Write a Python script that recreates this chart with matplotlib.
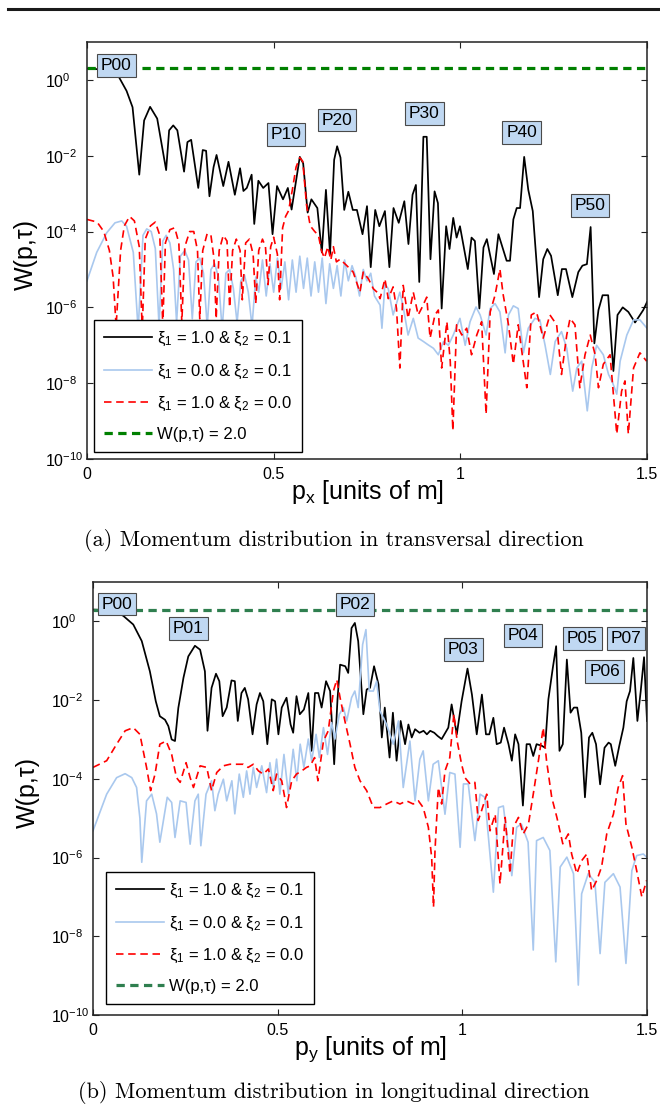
import numpy as np
import matplotlib
matplotlib.use("Agg")
import matplotlib.pyplot as plt
from matplotlib.lines import Line2D
from matplotlib.ticker import NullLocator

plt.rcParams['font.family'] = ['Liberation Sans', 'DejaVu Sans']
plt.rcParams['mathtext.fontset'] = 'custom'
plt.rcParams['mathtext.rm'] = 'Liberation Sans'
plt.rcParams['mathtext.it'] = 'Liberation Sans:italic'
plt.rcParams['mathtext.bf'] = 'Liberation Sans:bold'

# --- data: (p, log10 W) pairs ---
a_black = [(0.000, 0.30), (0.020, 0.29), (0.040, 0.27), (0.060, 0.22), (0.083, 0.12), (0.106, -0.29),
           (0.122, -0.72), (0.140, -2.50), (0.153, -1.07), (0.169, -0.71), (0.188, -1.02), (0.212, -2.38),
           (0.220, -1.33), (0.231, -1.20), (0.242, -1.33), (0.260, -2.42), (0.269, -1.64), (0.279, -1.58),
           (0.298, -2.85), (0.310, -1.85), (0.319, -1.87), (0.328, -3.07), (0.339, -2.30), (0.347, -1.98),
           (0.365, -2.80), (0.379, -2.16), (0.396, -3.03), (0.410, -2.33), (0.419, -2.93), (0.428, -2.85),
           (0.441, -2.50), (0.448, -3.80), (0.459, -2.66), (0.472, -2.85), (0.486, -2.72), (0.497, -4.07),
           (0.509, -2.80), (0.525, -3.15), (0.538, -2.85), (0.548, -3.42), (0.570, -2.03), (0.579, -2.20),
           (0.591, -3.50), (0.601, -3.15), (0.617, -3.38), (0.629, -4.55), (0.640, -2.90), (0.651, -4.60),
           (0.662, -2.11), (0.670, -1.75), (0.679, -2.05), (0.689, -3.43), (0.700, -2.95), (0.712, -3.43),
           (0.723, -3.43), (0.738, -4.07), (0.750, -3.33), (0.760, -4.94), (0.772, -3.43), (0.783, -3.86),
           (0.798, -3.46), (0.810, -4.94), (0.821, -3.38), (0.835, -3.77), (0.850, -3.20), (0.861, -4.33),
           (0.872, -3.03), (0.881, -2.77), (0.890, -5.33), (0.901, -1.50), (0.910, -1.50), (0.920, -4.73),
           (0.931, -2.94), (0.940, -3.25), (0.950, -6.03), (0.962, -3.86), (0.971, -4.46), (0.981, -3.64),
           (0.990, -4.16), (0.999, -3.86), (1.020, -4.99), (1.030, -4.16), (1.039, -4.25), (1.051, -6.03),
           (1.062, -4.42), (1.071, -4.20), (1.090, -5.12), (1.102, -4.07), (1.124, -4.77), (1.133, -4.77),
           (1.142, -3.68), (1.151, -3.38), (1.160, -3.38), (1.171, -2.03), (1.182, -2.90), (1.194, -3.46),
           (1.211, -5.73), (1.222, -4.73), (1.233, -4.46), (1.243, -4.64), (1.261, -5.68), (1.272, -4.99),
           (1.283, -4.99), (1.300, -5.73), (1.316, -5.07), (1.327, -4.90), (1.339, -4.86), (1.349, -3.88),
           (1.359, -6.95), (1.370, -6.07), (1.381, -5.68), (1.396, -5.68), (1.410, -7.68), (1.421, -6.20),
           (1.435, -6.00), (1.450, -6.12), (1.468, -6.40), (1.490, -6.07), (1.500, -5.86)]

a_blue = [(0.000, -5.30), (0.026, -4.55), (0.053, -4.03), (0.075, -3.77), (0.093, -3.72), (0.106, -3.86),
          (0.124, -4.55), (0.137, -6.60), (0.150, -4.10), (0.160, -3.93), (0.172, -4.00), (0.183, -4.45),
          (0.193, -6.50), (0.203, -4.25), (0.212, -4.10), (0.222, -4.30), (0.232, -5.00), (0.240, -6.40),
          (0.250, -4.65), (0.262, -4.50), (0.272, -4.75), (0.282, -6.30), (0.292, -4.80), (0.302, -4.70),
          (0.312, -5.10), (0.322, -6.50), (0.332, -5.00), (0.342, -4.85), (0.352, -5.20), (0.362, -6.60),
          (0.372, -5.10), (0.382, -5.00), (0.392, -5.50), (0.402, -6.40), (0.412, -5.30), (0.422, -5.15),
          (0.432, -5.60), (0.442, -6.50), (0.452, -5.20), (0.460, -5.60), (0.470, -4.75), (0.480, -5.70),
          (0.490, -4.85), (0.500, -5.60), (0.510, -4.70), (0.520, -5.50), (0.530, -4.80), (0.540, -5.80),
          (0.550, -4.75), (0.560, -5.60), (0.570, -4.65), (0.580, -5.50), (0.590, -4.70), (0.600, -5.70),
          (0.610, -4.80), (0.620, -5.60), (0.630, -4.70), (0.640, -5.90), (0.650, -4.85), (0.660, -5.50),
          (0.670, -4.90), (0.680, -5.70), (0.690, -4.75), (0.700, -5.30), (0.710, -4.90), (0.720, -5.20),
          (0.730, -5.70), (0.740, -5.00), (0.750, -5.30), (0.760, -5.10), (0.770, -5.70), (0.785, -5.94),
          (0.790, -6.55), (0.798, -5.38), (0.807, -5.51), (0.820, -6.20), (0.838, -5.60), (0.847, -5.99),
          (0.860, -6.73), (0.874, -6.29), (0.887, -6.81), (0.901, -6.90), (0.914, -6.99), (0.928, -7.08),
          (0.941, -7.25), (0.955, -6.90), (0.968, -7.00), (0.981, -6.73), (0.999, -6.29), (1.013, -7.00),
          (1.026, -6.38), (1.042, -5.99), (1.053, -6.20), (1.069, -6.73), (1.080, -6.03), (1.093, -5.90),
          (1.106, -6.12), (1.120, -7.20), (1.129, -6.20), (1.142, -5.96), (1.155, -6.03), (1.169, -7.20),
          (1.182, -6.55), (1.200, -6.29), (1.213, -6.33), (1.227, -7.00), (1.241, -7.77), (1.254, -6.90),
          (1.271, -6.64), (1.285, -7.08), (1.301, -8.21), (1.312, -7.60), (1.325, -7.42), (1.340, -8.73),
          (1.352, -7.60), (1.365, -7.00), (1.383, -7.25), (1.397, -7.77), (1.408, -7.99), (1.419, -8.29),
          (1.428, -7.42), (1.446, -6.73), (1.464, -6.33), (1.481, -6.33), (1.500, -6.55)]

a_red = [(0.000, -3.68), (0.027, -3.75), (0.045, -4.00), (0.060, -4.50), (0.070, -5.20), (0.078, -6.50),
         (0.090, -4.50), (0.100, -3.85), (0.114, -3.60), (0.127, -3.72), (0.140, -4.40), (0.148, -6.60),
         (0.156, -4.20), (0.170, -3.85), (0.183, -3.75), (0.195, -4.10), (0.203, -6.50), (0.210, -4.30),
         (0.222, -3.95), (0.235, -3.90), (0.246, -4.30), (0.254, -6.40), (0.262, -4.40), (0.275, -4.00),
         (0.286, -4.00), (0.296, -4.50), (0.302, -6.30), (0.310, -4.50), (0.322, -4.05), (0.332, -4.10),
         (0.340, -4.70), (0.346, -6.30), (0.354, -4.50), (0.365, -4.10), (0.375, -4.25), (0.382, -6.00),
         (0.390, -4.50), (0.400, -4.20), (0.410, -4.50), (0.416, -5.80), (0.425, -4.30), (0.435, -4.20),
         (0.445, -4.60), (0.452, -5.90), (0.460, -4.50), (0.470, -4.20), (0.478, -4.40), (0.485, -5.40),
         (0.492, -4.40), (0.500, -4.15), (0.510, -4.60), (0.516, -5.80), (0.524, -3.90), (0.532, -3.60),
         (0.540, -3.45), (0.550, -2.90), (0.560, -2.30), (0.570, -2.05), (0.578, -2.15), (0.588, -3.30),
         (0.598, -3.85), (0.610, -4.00), (0.620, -4.10), (0.628, -4.50), (0.636, -4.70), (0.645, -4.40),
         (0.653, -4.75), (0.660, -4.40), (0.668, -4.80), (0.678, -4.73), (0.696, -4.90), (0.713, -5.07),
         (0.731, -5.60), (0.740, -5.07), (0.754, -5.25), (0.767, -5.51), (0.777, -5.60), (0.785, -5.77),
         (0.798, -5.25), (0.807, -5.77), (0.820, -5.46), (0.829, -6.03), (0.838, -7.60), (0.847, -5.42),
         (0.860, -6.29), (0.874, -5.60), (0.887, -6.20), (0.896, -6.03), (0.910, -5.73), (0.919, -6.81),
         (0.932, -6.20), (0.941, -6.07), (0.950, -7.60), (0.964, -6.38), (0.973, -7.42), (0.980, -9.25),
         (0.990, -6.46), (1.004, -6.73), (1.017, -6.55), (1.030, -7.25), (1.044, -6.73), (1.057, -6.38),
         (1.069, -8.82), (1.080, -6.12), (1.093, -5.68), (1.106, -4.99), (1.115, -5.68), (1.129, -6.46),
         (1.142, -7.50), (1.155, -6.46), (1.178, -8.12), (1.190, -6.20), (1.204, -6.12), (1.222, -6.81),
         (1.240, -6.20), (1.258, -6.46), (1.271, -7.77), (1.285, -6.73), (1.294, -6.29), (1.307, -6.46),
         (1.320, -8.12), (1.334, -7.25), (1.348, -6.73), (1.361, -7.25), (1.370, -8.12), (1.383, -7.50),
         (1.401, -7.25), (1.419, -9.34), (1.432, -8.21), (1.441, -7.94), (1.450, -9.34), (1.464, -7.60),
         (1.481, -7.20), (1.499, -7.42)]

b_black = [(0.000, 0.30), (0.030, 0.29), (0.060, 0.25), (0.082, 0.14), (0.109, -0.08), (0.132, -0.50),
           (0.154, -1.27), (0.170, -2.03), (0.181, -2.41), (0.195, -2.50), (0.204, -2.66), (0.213, -3.00),
           (0.222, -3.04), (0.231, -2.20), (0.245, -1.43), (0.258, -0.89), (0.276, -0.62), (0.290, -0.72),
           (0.303, -1.27), (0.310, -2.78), (0.321, -1.69), (0.333, -1.33), (0.342, -1.52), (0.351, -2.41),
           (0.362, -2.19), (0.375, -1.50), (0.384, -1.52), (0.392, -2.53), (0.402, -1.82), (0.411, -1.69),
           (0.420, -1.98), (0.432, -2.87), (0.443, -2.11), (0.452, -1.82), (0.461, -2.03), (0.472, -3.12),
           (0.484, -1.98), (0.493, -2.03), (0.502, -2.87), (0.511, -2.19), (0.524, -1.94), (0.535, -2.62),
           (0.542, -2.83), (0.551, -1.90), (0.560, -2.36), (0.571, -2.24), (0.583, -1.82), (0.592, -3.29),
           (0.601, -1.82), (0.610, -1.82), (0.619, -2.19), (0.631, -1.52), (0.642, -1.77), (0.653, -3.63),
           (0.662, -1.98), (0.669, -1.10), (0.683, -1.14), (0.691, -1.31), (0.700, -0.17), (0.709, -0.04),
           (0.718, -0.50), (0.732, -2.36), (0.741, -1.73), (0.750, -1.69), (0.761, -1.14), (0.773, -1.60),
           (0.782, -2.95), (0.790, -2.19), (0.803, -3.46), (0.812, -2.32), (0.822, -3.54), (0.833, -2.53),
           (0.845, -3.12), (0.854, -2.62), (0.863, -2.95), (0.872, -2.74), (0.884, -2.83), (0.895, -2.78),
           (0.904, -2.87), (0.913, -2.78), (0.924, -2.83), (0.933, -2.91), (0.944, -2.99), (0.962, -2.70),
           (0.971, -2.11), (0.985, -2.87), (0.998, -2.03), (1.014, -1.20), (1.026, -1.86), (1.039, -2.87),
           (1.053, -1.86), (1.064, -2.87), (1.073, -2.87), (1.084, -2.45), (1.093, -3.12), (1.104, -3.08),
           (1.113, -2.70), (1.125, -3.12), (1.134, -3.54), (1.143, -2.87), (1.152, -3.12), (1.164, -4.68),
           (1.174, -3.12), (1.183, -3.12), (1.192, -3.42), (1.201, -3.12), (1.215, -3.16), (1.224, -3.21),
           (1.233, -1.98), (1.245, -1.18), (1.254, -0.63), (1.263, -3.29), (1.272, -3.12), (1.283, -0.97),
           (1.293, -2.32), (1.302, -2.19), (1.311, -2.19), (1.322, -2.83), (1.332, -4.47), (1.343, -2.95),
           (1.352, -2.83), (1.362, -3.12), (1.373, -4.14), (1.385, -3.21), (1.396, -3.08), (1.402, -3.12),
           (1.414, -3.67), (1.425, -3.16), (1.436, -2.70), (1.445, -2.03), (1.454, -1.77), (1.463, -0.93),
           (1.474, -2.53), (1.483, -1.77), (1.492, -0.91), (1.500, -2.53)]

b_blue = [(0.000, -5.32), (0.037, -4.39), (0.064, -3.97), (0.087, -3.87), (0.105, -3.97), (0.118, -4.22),
          (0.127, -5.00), (0.132, -6.12), (0.145, -4.56), (0.159, -4.39), (0.172, -4.89), (0.181, -5.61),
          (0.201, -4.47), (0.213, -4.60), (0.222, -5.49), (0.236, -4.56), (0.252, -4.60), (0.263, -5.66),
          (0.276, -4.56), (0.285, -4.39), (0.292, -5.70), (0.306, -4.39), (0.321, -4.05), (0.330, -4.81),
          (0.339, -4.39), (0.353, -4.01), (0.362, -4.56), (0.376, -4.05), (0.384, -4.89), (0.396, -3.88),
          (0.407, -4.47), (0.416, -3.80), (0.425, -4.39), (0.434, -3.71), (0.443, -4.22), (0.457, -3.67),
          (0.470, -4.35), (0.479, -3.59), (0.488, -4.22), (0.497, -3.50), (0.506, -4.39), (0.517, -3.38),
          (0.529, -4.39), (0.542, -3.25), (0.552, -4.05), (0.561, -3.12), (0.571, -3.71), (0.583, -2.99),
          (0.592, -3.54), (0.604, -2.87), (0.613, -3.46), (0.624, -2.70), (0.635, -3.38), (0.646, -2.57),
          (0.655, -2.99), (0.667, -2.36), (0.678, -2.19), (0.687, -2.53), (0.700, -1.94), (0.709, -1.77),
          (0.718, -2.19), (0.730, -0.59), (0.739, -0.21), (0.748, -1.77), (0.759, -1.77), (0.768, -1.52),
          (0.777, -2.28), (0.795, -2.62), (0.813, -3.12), (0.827, -2.53), (0.840, -4.22), (0.858, -3.04),
          (0.872, -4.56), (0.885, -3.50), (0.894, -3.29), (0.908, -4.56), (0.921, -3.63), (0.935, -3.54),
          (0.953, -4.90), (0.966, -3.84), (0.980, -3.88), (0.994, -5.74), (1.003, -4.13), (1.016, -4.13),
          (1.034, -5.57), (1.048, -4.39), (1.061, -4.47), (1.084, -6.88), (1.098, -4.73), (1.111, -4.69),
          (1.134, -6.46), (1.147, -5.23), (1.160, -5.15), (1.178, -5.61), (1.192, -8.35), (1.201, -5.57),
          (1.219, -5.49), (1.237, -5.82), (1.253, -8.65), (1.265, -6.24), (1.283, -5.99), (1.301, -6.41),
          (1.314, -9.24), (1.323, -6.92), (1.341, -6.41), (1.359, -6.63), (1.373, -8.44), (1.386, -6.63),
          (1.409, -6.41), (1.427, -6.75), (1.443, -8.69), (1.459, -6.33), (1.472, -5.95), (1.490, -5.91),
          (1.499, -5.99)]

b_red = [(0.000, -3.71), (0.037, -3.54), (0.064, -3.12), (0.087, -2.78), (0.109, -2.70), (0.127, -2.87),
         (0.145, -3.71), (0.156, -4.30), (0.168, -3.88), (0.181, -3.12), (0.198, -3.04), (0.213, -3.38),
         (0.226, -3.97), (0.236, -4.09), (0.252, -3.59), (0.263, -3.97), (0.272, -4.22), (0.290, -3.67),
         (0.308, -3.71), (0.321, -4.30), (0.335, -3.84), (0.353, -3.67), (0.371, -3.63), (0.389, -3.63),
         (0.407, -3.63), (0.420, -3.71), (0.434, -3.63), (0.448, -3.80), (0.461, -3.88), (0.475, -3.75),
         (0.488, -4.30), (0.497, -3.88), (0.511, -4.05), (0.524, -4.73), (0.538, -4.05), (0.551, -3.88),
         (0.565, -3.80), (0.578, -3.71), (0.588, -3.67), (0.600, -3.46), (0.609, -4.05), (0.624, -3.04),
         (0.637, -2.78), (0.651, -1.77), (0.660, -1.48), (0.669, -1.94), (0.682, -2.53), (0.696, -3.12),
         (0.709, -3.71), (0.723, -4.05), (0.741, -4.30), (0.759, -4.73), (0.777, -4.73), (0.795, -4.64),
         (0.813, -4.56), (0.831, -4.64), (0.849, -4.56), (0.867, -4.64), (0.881, -4.56), (0.894, -4.73),
         (0.908, -5.23), (0.917, -6.00), (0.922, -7.26), (0.926, -5.82), (0.935, -4.22), (0.944, -4.64),
         (0.953, -3.80), (0.966, -3.46), (0.977, -2.36), (0.986, -3.04), (0.998, -3.63), (1.007, -3.97),
         (1.021, -4.13), (1.034, -4.09), (1.043, -5.06), (1.052, -4.81), (1.066, -4.39), (1.075, -5.32),
         (1.089, -4.90), (1.102, -6.67), (1.116, -4.98), (1.129, -6.41), (1.138, -5.23), (1.152, -4.98),
         (1.165, -5.40), (1.179, -5.15), (1.192, -4.39), (1.206, -3.54), (1.219, -2.70), (1.228, -3.54),
         (1.242, -4.47), (1.256, -4.98), (1.272, -5.65), (1.287, -5.40), (1.296, -5.91), (1.310, -6.41),
         (1.323, -6.08), (1.337, -5.91), (1.350, -6.84), (1.364, -6.58), (1.377, -6.24), (1.391, -5.40),
         (1.409, -4.90), (1.422, -4.22), (1.434, -3.92), (1.443, -5.15), (1.459, -5.74), (1.472, -6.33),
         (1.486, -7.00), (1.499, -6.58)]

w_level = 2.0

legend_labels = [r'ξ$_1$ = 1.0 & ξ$_2$ = 0.1',
                 r'ξ$_1$ = 0.0 & ξ$_2$ = 0.1',
                 r'ξ$_1$ = 1.0 & ξ$_2$ = 0.0',
                 'W(p,τ) = 2.0']

# datatip labels: (text, p, log10 W of box centre)
a_tips = [('P00', 0.079, 0.38), ('P10', 0.533, -1.44), ('P20', 0.670, -1.06),
          ('P30', 0.904, -0.89), ('P40', 1.164, -1.39), ('P50', 1.347, -3.32)]
b_tips = [('P00', 0.065, 0.44), ('P01', 0.258, -0.18), ('P02', 0.709, 0.43),
          ('P03', 1.003, -0.72), ('P04', 1.164, -0.36), ('P05', 1.325, -0.44),
          ('P06', 1.385, -1.27), ('P07', 1.443, -0.44)]

x_ticks = [0, 0.5, 1, 1.5]
x_ticklabels = ['0', '0.5', '1', '1.5']
y_ticks = [1e-10, 1e-8, 1e-6, 1e-4, 1e-2, 1e0]
y_ticklabels = [r'$10^{-10}$', r'$10^{-8}$', r'$10^{-6}$', r'$10^{-4}$', r'$10^{-2}$', r'$10^{0}$']

BLUE = '#a9c8ee'
TIP_FACE = '#c0d8f2'


def draw_panel(ax, black, blue, red, green_color, tips, xlabel, leg_anchor, ylab_x, ylab_y):
    for pts, kw in ((black, dict(color='k', lw=1.25)),
                    (blue, dict(color=BLUE, lw=1.2)),
                    (red, dict(color='r', lw=1.2, dashes=(4.5, 2.8)))):
        p, lg = np.array(pts).T
        ax.plot(p, 10.0 ** lg, **kw)
    ax.plot([0, 1.5], [w_level, w_level], color=green_color, lw=2.3, dashes=(2.6, 1.7))

    ax.set_yscale('log')
    ax.set_xlim(0, 1.5)
    ax.set_ylim(1e-10, 10)
    ax.set_xticks(x_ticks, x_ticklabels)
    ax.set_yticks(y_ticks, y_ticklabels, ha='left')
    ax.yaxis.set_minor_locator(NullLocator())
    ax.tick_params(direction='in', top=True, right=True, length=4, width=0.8,
                   labelsize=11.5, colors='#222222', labelcolor='k')
    ax.tick_params(axis='y', pad=30)
    ax.tick_params(axis='x', pad=6)
    for s in ax.spines.values():
        s.set_linewidth(1.1)
        s.set_color('#222222')

    ax.set_ylabel('W(p,τ)', fontsize=18)
    ax.yaxis.set_label_coords(ylab_x, ylab_y)
    ax.set_xlabel(xlabel, fontsize=18, va='top')
    ax.xaxis.set_label_coords(0.5, -0.045)

    for name, p, lg in tips:
        ax.text(p, 10.0 ** lg, name, fontsize=12.5, ha='center', va='center', zorder=10,
                bbox=dict(boxstyle='square,pad=0.22', fc=TIP_FACE, ec='#4a4a4a', lw=0.8))

    leg = ax.legend(ax.get_lines(), legend_labels, loc='lower left', bbox_to_anchor=leg_anchor,
                    borderaxespad=0, fontsize=12, handlelength=2.9, handletextpad=0.3,
                    labelspacing=0.85, borderpad=0.6, fancybox=False, edgecolor='k', framealpha=1)
    leg.get_frame().set_linewidth(1.0)


fig = plt.figure(figsize=(6.6, 11.08), dpi=100)
fig.add_artist(Line2D([8 / 660, 1.0], [1 - 9 / 1108] * 2, color='#1a1a1a', lw=2.2))

ax1 = fig.add_axes([87 / 660, 1 - 459 / 1108, 560 / 660, 417 / 1108])
draw_panel(ax1, a_black, a_blue, a_red, '#008000', a_tips, r'p$_\mathrm{x}$ [units of m]',
           (0.0125, 0.0168), -0.088, 0.49)

ax2 = fig.add_axes([93 / 660, 1 - 1015 / 1108, 554 / 660, 433 / 1108])
draw_panel(ax2, b_black, b_blue, b_red, '#2f7f4f', b_tips, r'p$_\mathrm{y}$ [units of m]',
           (0.0235, 0.0254), -0.095, 0.515)

fig.text(0.506, 1 - 540 / 1108, '(a) Momentum distribution in transversal direction',
         family='cmr10', fontsize=16, ha='center', va='center')
fig.text(0.506, 1 - 1093 / 1108, '(b) Momentum distribution in longitudinal direction',
         family='cmr10', fontsize=16, ha='center', va='center')

fig.savefig('out.png', dpi=100)
